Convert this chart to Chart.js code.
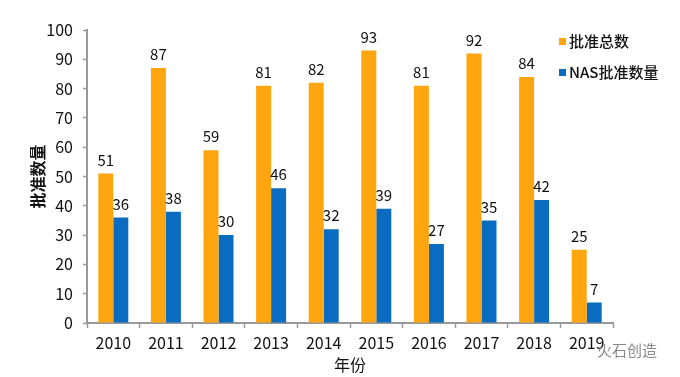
<!DOCTYPE html>
<html lang="zh">
<head>
<meta charset="UTF-8">
<script src="https://cdn.jsdelivr.net/npm/chart.js"></script>
<title>批准数量</title>
<style>
  body { margin: 0; background: #fff; }
  #wrap { position: relative; width: 680px; height: 377px; }
  #mark { position: absolute; left: 597px; top: 339px; font: 15px "Noto Sans CJK SC"; color: #8a8a8a; }
</style>
</head>
<body>
<div id="wrap">
  <canvas id="chart" width="680" height="377"></canvas>
  <div id="mark">火石创造</div>
</div>
<script>
const years = ['2010', '2011', '2012', '2013', '2014', '2015', '2016', '2017', '2018', '2019'];
const totalApproved = [51, 87, 59, 81, 82, 93, 81, 92, 84, 25];
const nasApproved = [36, 38, 30, 46, 32, 39, 27, 35, 42, 7];
const seriesNames = ['批准总数', 'NAS批准数量'];
const seriesColors = ['#FFA50F', '#0A6CC0'];

const FONT = '"Noto Sans CJK SC", "Noto Sans", sans-serif';

// value labels above each bar
const barLabels = {
    id: 'barLabels',
    afterDatasetsDraw(chart) {
        const ctx = chart.ctx;
        ctx.save();
        ctx.font = '15px ' + FONT;
        ctx.fillStyle = '#111';
        ctx.textAlign = 'center';
        ctx.textBaseline = 'bottom';
        chart.data.datasets.forEach((ds, i) => {
            chart.getDatasetMeta(i).data.forEach((bar, j) => {
                ctx.fillText(ds.data[j], bar.x, bar.y - 6);
            });
        });
        ctx.restore();
    }
};

// legend drawn inside the plot, top right
const sideLegend = {
    id: 'sideLegend',
    afterDraw(chart) {
        const ctx = chart.ctx;
        ctx.save();
        ctx.font = '500 15px ' + FONT;
        ctx.textBaseline = 'middle';
        chart.data.datasets.forEach((ds, i) => {
            const y = 41 + i * 31;
            ctx.fillStyle = ds.backgroundColor;
            ctx.fillRect(559, y - 3, 7, 7);
            ctx.fillStyle = '#111';
            ctx.fillText(ds.label, 569, y);
        });
        ctx.restore();
    }
};

new Chart('chart', {
    type: 'bar',
    data: {
        labels: years,
        datasets: [
            { label: seriesNames[0], data: totalApproved, backgroundColor: seriesColors[0] },
            { label: seriesNames[1], data: nasApproved, backgroundColor: seriesColors[1] }
        ]
    },
    options: {
        responsive: false,
        animation: false,
        layout: { padding: { top: 30, right: 67, left: 0, bottom: 0 } },
        datasets: { bar: { categoryPercentage: 0.57, barPercentage: 1 } },
        scales: {
            x: {
                afterFit(scale) { scale.height = 54; },
                grid: { offset: true, drawOnChartArea: false, tickLength: 5, color: '#999', tickWidth: 1.5 },
                border: { color: '#999', width: 2 },
                ticks: { padding: 5, color: '#111', font: { family: FONT, size: 16 } },
                title: { display: true, text: '年份', color: '#111', padding: { top: 0, bottom: 2 }, font: { family: FONT, size: 16 } }
            },
            y: {
                min: 0,
                max: 100,
                afterFit(scale) { scale.width = 87; },
                grid: { drawOnChartArea: false, tickLength: 4, color: '#999', tickWidth: 1.5 },
                border: { color: '#999', width: 2 },
                ticks: { stepSize: 10, padding: 10, color: '#111', font: { family: FONT, size: 16 } },
                title: { display: true, text: '批准数量', color: '#111', padding: { top: 28, bottom: 0 }, font: { family: FONT, size: 16, weight: 'bold' } }
            }
        },
        plugins: {
            legend: { display: false },
            tooltip: { enabled: false }
        }
    },
    plugins: [barLabels, sideLegend]
});
</script>
</body>
</html>
